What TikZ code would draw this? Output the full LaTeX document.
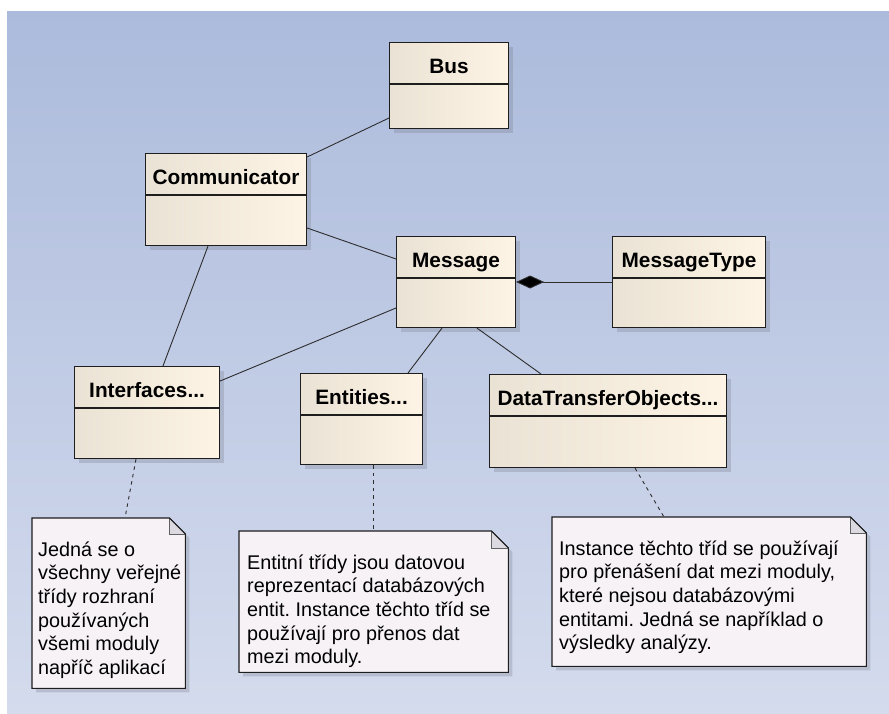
\documentclass[tikz,border=0pt]{standalone}
\usepackage{fontspec}
\setmainfont{Liberation Sans}
\usetikzlibrary{calc,shadows,arrows.meta}

\definecolor{bgtop}{RGB}{172,187,220}
\definecolor{bgbot}{RGB}{212,219,237}
\definecolor{clsleft}{RGB}{234,226,212}
\definecolor{clsright}{RGB}{253,244,229}
\definecolor{notefill}{RGB}{247,242,246}
\definecolor{foldfill}{RGB}{220,218,224}
\definecolor{boxline}{RGB}{30,30,30}
\definecolor{connline}{RGB}{45,45,45}
\definecolor{shadowgray}{RGB}{120,125,140}

\tikzset{
  cls/.style={draw=boxline, line width=1.1pt, left color=clsleft, right color=clsright,
    inner sep=0pt, anchor=north west,
    drop shadow={shadow xshift=4pt, shadow yshift=-4pt, fill=shadowgray, opacity=0.3}},
  clsname/.style={font=\fontsize{20.8}{24}\selectfont\bfseries, anchor=base, inner sep=0pt},
  notebox/.style={inner sep=0pt, anchor=north west},
  notetext/.style={anchor=base west, inner sep=0pt},
  assoc/.style={draw=connline, line width=0.9pt},
  noteline/.style={draw=connline, line width=0.9pt, dash pattern=on 3.5pt off 4pt},
}

% class box: name, x, y, width, height, label
\newcommand\umlclass[6]{%
  \node[cls, minimum width=#4pt, minimum height=#5pt] (#1) at (#2,#3) {};
  \draw[boxline, line width=1.1pt] ([yshift=-42pt]#1.north west) -- ([yshift=-42pt]#1.north east);
  \node[clsname] (#1-name) at ($(#1.north)+(0,31.5)$) {#6};
}

% note paper with folded corner around a named frame node: name, fold size
\newcommand\notepaper[2]{%
  \fill[shadowgray, opacity=0.3] ($(#1.north west)+(4,4)$) -- ($(#1.north east)+(4-#2,4)$)
    -- ($(#1.north east)+(4,4+#2)$) -- ($(#1.south east)+(4,4)$) -- ($(#1.south west)+(4,4)$) -- cycle;
  \draw[boxline, line width=1.1pt, fill=notefill] (#1.north west) -- ($(#1.north east)+(-#2,0)$)
    -- ($(#1.north east)+(0,#2)$) -- (#1.south east) -- (#1.south west) -- cycle;
  \fill[foldfill] ($(#1.north east)+(-#2,0)$) -- ($(#1.north east)+(-#2,#2)$) -- ($(#1.north east)+(0,#2)$) -- cycle;
  \draw[boxline!70, line width=0.6pt] ($(#1.north east)+(-#2,0)$) -- ($(#1.north east)+(-#2,#2)$) -- ($(#1.north east)+(0,#2)$);
  \draw[boxline, line width=1.1pt] ($(#1.north east)+(-#2,0)$) -- ($(#1.north east)+(0,#2)$);
}

\newcommand\notefont{\fontsize{19.8}{23.7}\selectfont\frenchspacing}

\begin{document}
\begin{tikzpicture}[x=1pt, y=-1pt]
  \useasboundingbox (0,0) rectangle (889,714);
  \fill[white] (0,0) rectangle (889,714);
  \shade[top color=bgtop, bottom color=bgbot] (7,12) rectangle (889,714);

  % classes
  \umlclass{bus}{389}{42}{119}{86}{Bus}
  \umlclass{comm}{145}{153}{161}{92}{Communicator}
  \umlclass{msg}{396}{236}{119}{91}{Message}
  \umlclass{mtype}{612}{236}{153}{91}{MessageType}
  \umlclass{intf}{74}{366}{145}{92}{Interfaces...}
  \umlclass{ent}{300}{373}{122}{91}{Entities...}
  \umlclass{dto}{489}{374}{237}{93}{DataTransferObjects...}

  % associations
  \draw[assoc] ($(bus.north west)+(0,76)$) -- ($(comm.north east)+(0,4)$);
  \draw[assoc] ($(comm.north east)+(0,75)$) -- ($(msg.north west)+(0,23)$);
  \draw[assoc] ($(comm.south west)+(63,0)$) -- ($(intf.north west)+(89,0)$);
  \draw[assoc] ($(msg.north west)+(0,72)$) -- ($(intf.north east)+(0,15)$);
  \draw[assoc] ($(msg.south west)+(46,0)$) -- ($(ent.north west)+(108,0)$);
  \draw[assoc] ($(msg.south west)+(81,0)$) -- ($(dto.north west)+(52,0)$);
  % composition
  \draw[assoc, {Diamond[length=28pt, width=13pt, fill=black]}-] ($(msg.north east)+(0,46)$) -- ($(mtype.north west)+(0,46)$);

  % notes
  \node[notebox, minimum width=153pt, minimum height=170pt] (n1) at (32,518) {};
  \node[notebox, minimum width=269pt, minimum height=141pt] (n2) at (239,531) {};
  \node[notebox, minimum width=314pt, minimum height=149pt] (n3) at (552,517) {};
  \notepaper{n1}{16}
  \notepaper{n2}{17}
  \notepaper{n3}{16}

  \node[notetext] (n1-text) at ($(n1.north west)+(6,38)$) {\notefont\parbox[t]{150pt}{\raggedright
    Jedná se o\\všechny veřejné\\třídy rozhraní\\používaných\\všemi moduly\\napříč aplikací}};
  \node[notetext] (n2-text) at ($(n2.north west)+(8,38)$) {\notefont\parbox[t]{260pt}{\raggedright
    Entitní třídy jsou datovou\\reprezentací databázových\\entit. Instance těchto tříd se\\používají pro přenos dat\\mezi moduly.}};
  \node[notetext] (n3-text) at ($(n3.north west)+(7,38)$) {\notefont\parbox[t]{305pt}{\raggedright
    Instance těchto tříd se používají\\pro přenášení dat mezi moduly,\\které nejsou databázovými\\entitami. Jedná se například o\\výsledky analýzy.}};

  % note anchors
  \draw[noteline] ($(intf.south west)+(62,0)$) -- ($(n1.north west)+(93,0)$);
  \draw[noteline] ($(ent.south west)+(73,0)$) -- ($(n2.north west)+(134,0)$);
  \draw[noteline] ($(dto.south west)+(146,0)$) -- ($(n3.north west)+(112,0)$);
\end{tikzpicture}
\end{document}
